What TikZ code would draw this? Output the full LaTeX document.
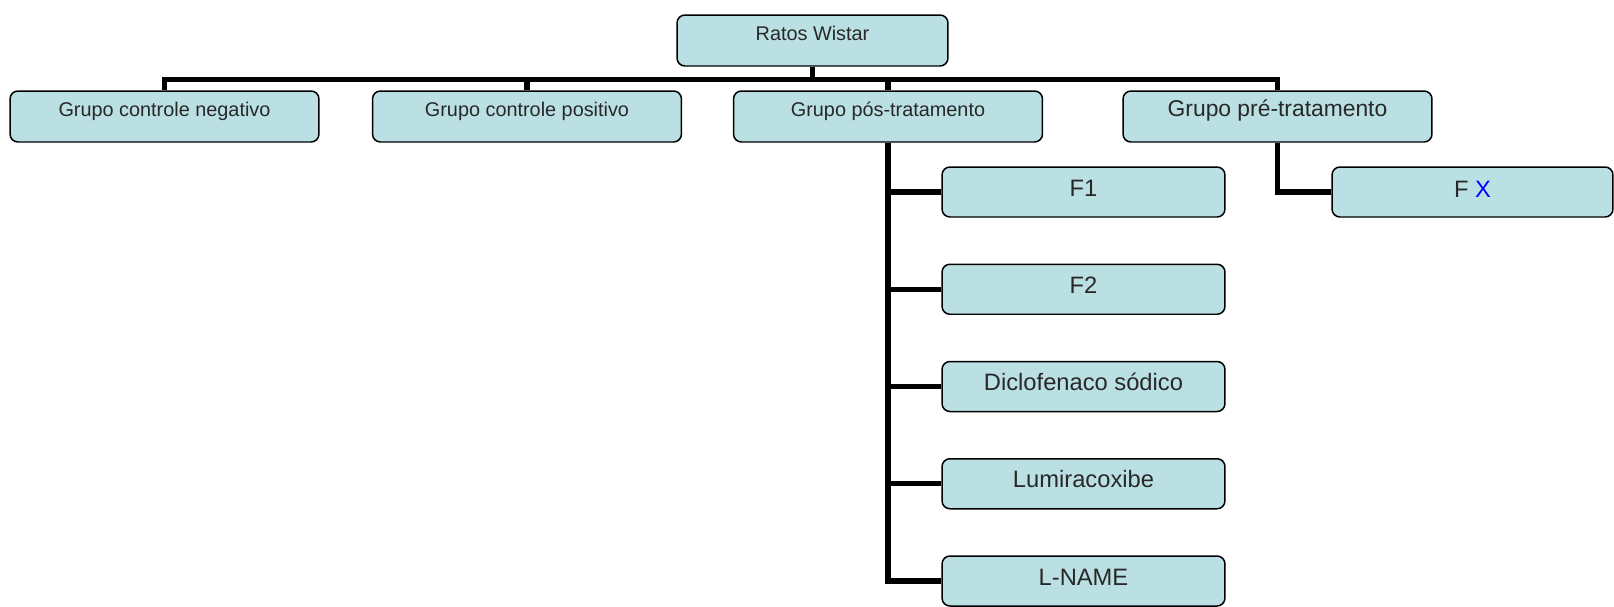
\documentclass[tikz,border=0pt]{standalone}
\usepackage{fontspec}
\setmainfont{Liberation Sans}
\usetikzlibrary{positioning}

\definecolor{caixafill}{RGB}{187,224,227}
\definecolor{caixatexto}{RGB}{40,40,40}

\begin{document}
\begin{tikzpicture}[x=0.02cm,y=-0.02cm,
    caixa/.style={draw=black,line width=0.85pt,rounded corners=4.5pt,fill=caixafill,text=caixatexto,inner sep=0pt},
    grupo/.style={caixa,minimum width=6.18cm,minimum height=1.02cm,text height=0.1cm,text depth=0.1cm,font=\fontsize{11.3}{13}\selectfont},
    filho/.style={caixa,minimum width=5.66cm,minimum height=1cm,text height=0.2cm,text depth=0.04cm,font=\fontsize{13.5}{16}\selectfont},
    ligacao/.style={draw=black,line width=3pt}]
    \useasboundingbox (0,0) rectangle (1614,606);

    \node[grupo,minimum width=5.42cm] (ratos) at (812.5,40.5) {Ratos Wistar};

    \node[grupo] (negativo) at (164.5,116.5) {Grupo controle negativo};
    \node[grupo] (positivo) at (527,116.5) {Grupo controle positivo};
    \node[grupo] (pos) at (888,116.5) {Grupo pós-tratamento};
    \node[grupo,font=\fontsize{13}{15.6}\selectfont] (pre) at (1277.5,116.5) {Grupo pré-tratamento};

    % barra horizontal
    \foreach \g in {negativo,positivo,pos,pre}{
        \draw[ligacao] (ratos.south) -- ++(0,12.5) -| (\g.north);
    }

    \foreach \i/\t in {1/F1,2/F2,3/Diclofenaco sódico,4/Lumiracoxibe,5/L-NAME}{
        \pgfmathsetmacro{\yfilho}{192 + 97.25*(\i-1)}
        \node[filho] (filho\i) at (1083.5,\yfilho) {\t};
        \draw[ligacao] (pos.south) |- (filho\i.west);
    }

    \node[filho,minimum width=5.62cm,text height=0.24cm] (fx) at (1472.5,192) {F {\color{blue}X}};
    \draw[ligacao] (pre.south) |- (fx.west);

\end{tikzpicture}
\end{document}
